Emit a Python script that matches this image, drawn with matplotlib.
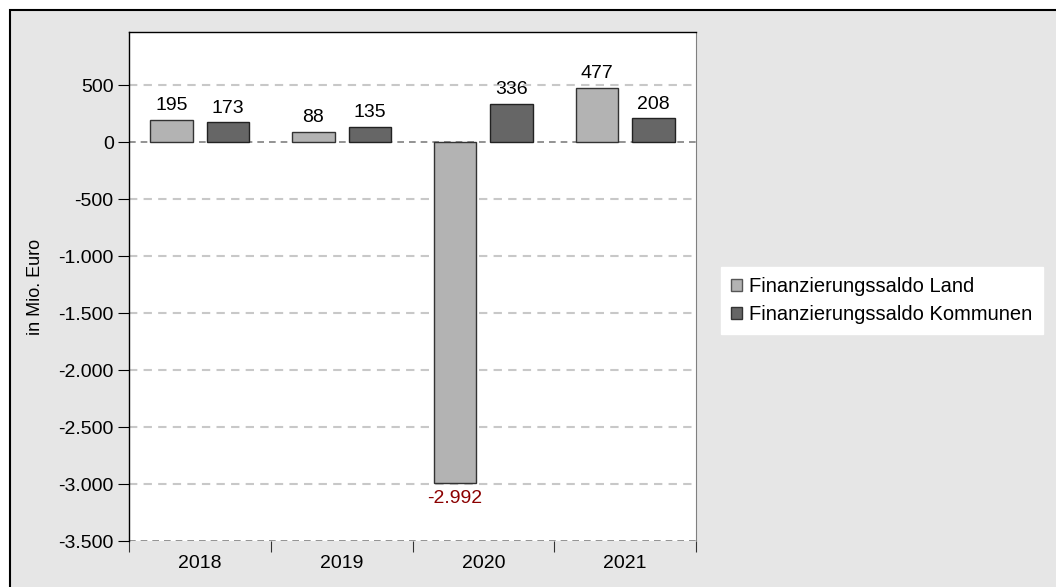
import numpy as np
import matplotlib.pyplot as plt
from matplotlib.patches import Rectangle, Patch
from matplotlib.ticker import FuncFormatter, FixedLocator

plt.rcParams['font.family'] = ['Liberation Sans', 'DejaVu Sans']

years = ["2018", "2019", "2020", "2021"]
land = [195, 88, -2992, 477]
kommunen = [173, 135, 336, 208]
series_names = ["Finanzierungssaldo Land", "Finanzierungssaldo Kommunen"]


def de_num(v):
    # German thousands separator
    return f"{int(round(v)):,}".replace(",", ".")


fig = plt.figure(figsize=(10.56, 5.87), dpi=100)
fig.patch.set_facecolor("white")

# grey panel behind the chart
panel = Rectangle((10 / 1056, -0.05), 1.2, (587 - 9.5) / 587 + 0.05,
                  transform=fig.transFigure, facecolor="#e6e6e6",
                  edgecolor="black", linewidth=1.5, zorder=-5)
fig.patches.append(panel)

ax = fig.add_axes([129 / 1056, 46 / 587, (696 - 129) / 1056, (541 - 32) / 587])
ax.set_zorder(2)
ax.set_facecolor("white")

x = np.arange(len(years)) + 0.5
w = 0.30
off = 0.20
b1 = ax.bar(x - off, land, w, color="#b3b3b3", edgecolor="#333333", linewidth=1, zorder=3)
b2 = ax.bar(x + off, kommunen, w, color="#666666", edgecolor="#222222", linewidth=1, zorder=3)

for bars, vals in ((b1, land), (b2, kommunen)):
    for r, v in zip(bars, vals):
        cx = r.get_x() + r.get_width() / 2
        if v >= 0:
            ax.annotate(de_num(v), (cx, v), xytext=(0, 4), textcoords="offset points",
                        ha="center", va="bottom", fontsize=14, color="black")
        else:
            ax.annotate(de_num(v), (cx, v), xytext=(0, -5), textcoords="offset points",
                        ha="center", va="top", fontsize=14, color="#8b0000")

ax.set_xlim(0, 4)
ax.set_ylim(-3500, 965)

yt = np.arange(-3500, 501, 500)
ax.set_yticks(yt)
ax.yaxis.set_major_formatter(FuncFormatter(lambda v, p: de_num(v)))
for v in yt:
    if v in (0, -3500):
        ax.axhline(v, color="#808080", linestyle=(0, (4, 3)), linewidth=1.2, zorder=2)
    else:
        ax.axhline(v, color="#c8c8c8", linestyle=(0, (4, 3)), linewidth=1.5, zorder=1)

ax.xaxis.set_major_locator(FixedLocator([0, 1, 2, 3, 4]))
ax.set_xticklabels([])
ax.set_xticks(x, minor=True)
ax.set_xticklabels(years, minor=True, fontsize=14)
ax.tick_params(axis="x", which="major", length=8, direction="out", color="#333333")
ax.tick_params(axis="x", which="minor", length=0, pad=10)
ax.tick_params(axis="y", length=8, direction="out", labelsize=14, pad=3)

for s in ("left", "top", "bottom"):
    ax.spines[s].set_color("black")
    ax.spines[s].set_linewidth(1)
ax.spines["right"].set_color("#808080")
ax.spines["bottom"].set_visible(False)

ax.set_ylabel("in Mio. Euro", fontsize=13, labelpad=10)

handles = [Patch(facecolor="#b3b3b3", edgecolor="#555555"),
           Patch(facecolor="#666666", edgecolor="#333333")]
leg = fig.legend(handles, series_names, loc="upper left",
                 bbox_to_anchor=(721 / 1056, 1 - 267 / 587), borderaxespad=0,
                 fontsize=14.5, frameon=True, fancybox=False, framealpha=1,
                 edgecolor="white", handlelength=0.55, handleheight=0.55,
                 handletextpad=0.35, labelspacing=0.45, borderpad=0.5)
leg.get_frame().set_facecolor("white")

fig.savefig("out.png", dpi=100)
